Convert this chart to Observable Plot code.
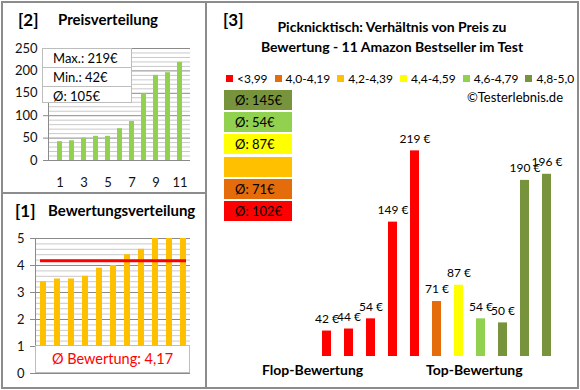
<!DOCTYPE html>
<html><head><meta charset="utf-8">
<script src="https://cdn.jsdelivr.net/npm/d3@7"></script>
<script src="https://cdn.jsdelivr.net/npm/@observablehq/plot@0.6"></script>
<style>
body{margin:0;background:#fff;font-family:Lato,"Open Sans",sans-serif;color:#000;}
#root{position:relative;width:580px;height:390px;overflow:hidden;background:#fff;}
.abs{position:absolute;white-space:nowrap;}
.panel{position:absolute;border:2px solid #8c8c8c;box-sizing:border-box;}
.num{font-size:17px;font-weight:700;}
.ttl{font-size:15px;font-weight:700;}
svg{position:absolute;overflow:visible;}
</style></head>
<body><div id="root"></div>
<script>
// ---- data ----
const prices = [42, 44, 54, 149, 219, 71, 87, 54, 50, 190, 196];
const ratings = [3.4, 3.5, 3.5, 3.6, 3.9, 4.0, 4.4, 4.6, 5.0, 5.0, 5.0];
const classLabels = ["<3,99", "4,0-4,19", "4,2-4,39", "4,4-4,59", "4,6-4,79", "4,8-5,0"];
const classLimits = [4.0, 4.2, 4.4, 4.6, 4.8, 5.01];
const classColors = ["#FF0000", "#E46C0A", "#FFC000", "#FFFF00", "#92D050", "#77933C"];
const priceTicks = [0, 50, 100, 150, 200, 250];
const ratingTicks = [0, 1, 2, 3, 4, 5];
const titleText = ["Picknicktisch: Verhältnis von Preis zu", "Bewertung - 11 Amazon Bestseller im Test"];

const root = document.getElementById("root");
function div(style, html, cls) {
  const d = document.createElement("div");
  d.className = "abs " + (cls || "");
  d.setAttribute("style", style);
  d.innerHTML = html;
  root.appendChild(d);
  return d;
}
function place(svg, left, top) {
  svg.style.left = left + "px"; svg.style.top = top + "px";
  root.appendChild(svg);
}
const classOf = r => classLimits.findIndex(l => r < l);

// panel borders
div("left:1px;top:1px;width:206px;height:193px;", "", "panel");
div("left:1px;top:192px;width:206px;height:197px;", "", "panel");
div("left:205px;top:1px;width:374px;height:388px;", "", "panel");

// ---- panel [2] Preisverteilung ----
const sortedPrices = d3.sort(prices);
const idx = d3.range(1, sortedPrices.length + 1);
const p2 = Plot.plot({
  width: 200, height: 195,
  marginLeft: 48, marginRight: 10, marginTop: 48, marginBottom: 35,
  x: {type: "band", domain: idx, paddingInner: 0.6, paddingOuter: 0.3, axis: null},
  y: {domain: [0, 250], axis: null},
  style: {fontFamily: "Lato, sans-serif", color: "#111"},
  marks: [
    Plot.ruleY(d3.range(0, 251, 10).filter(v => v % 50), {stroke: "#c9c9c9"}),
    Plot.ruleY(priceTicks, {stroke: "#8a8a8a"}),
    Plot.frame({anchor: "left", stroke: "#8a8a8a"}),
    Plot.barY(sortedPrices, {x: (d, i) => idx[i], y: d => d, fill: "#92D050"}),
    Plot.axisY({ticks: priceTicks, tickSize: 5, tickPadding: 6, fontSize: 13, stroke: "#8a8a8a"}),
    Plot.axisX({tickSize: 0, tickPadding: 17, fontSize: 13, tickFormat: d => d % 2 ? d : ""})
  ]
});
place(p2, 0, 0);
div("left:18px;top:9px;", "[2]", "num");
div("left:58px;top:10px;", "Preisverteilung", "ttl");
const statBox = div("left:42px;top:48px;width:90px;height:55px;background:#fff;border:1px solid #bdbdbd;box-sizing:border-box;font-size:13px;", "");
["Max.: " + d3.max(prices) + "€", "Min.: " + d3.min(prices) + "€", "Ø: " + Math.round(d3.mean(prices)) + "€"].forEach((t, i) => {
  const r = document.createElement("div");
  r.textContent = t;
  r.setAttribute("style", "height:18px;line-height:18px;padding-left:10px;" + (i < 2 ? "border-bottom:1px solid #bdbdbd;" : ""));
  statBox.appendChild(r);
});

// ---- panel [1] Bewertungsverteilung ----
const sortedRatings = d3.sort(ratings);
const meanRating = d3.mean(ratings);
const p1 = Plot.plot({
  width: 200, height: 195,
  marginLeft: 35, marginRight: 10, marginTop: 43, marginBottom: 17,
  x: {type: "band", domain: idx, paddingInner: 0.58, paddingOuter: 0.29, axis: null},
  y: {domain: [0, 5], axis: null},
  style: {fontFamily: "Lato, sans-serif", color: "#111"},
  marks: [
    Plot.ruleY(d3.range(0, 5.01, 0.2).filter(v => Math.abs(v - Math.round(v)) > 0.01), {stroke: "#c9c9c9"}),
    Plot.ruleY(ratingTicks, {stroke: "#8a8a8a"}),
    Plot.frame({anchor: "left", stroke: "#8a8a8a"}),
    Plot.barY(sortedRatings, {x: (d, i) => idx[i], y: d => d, fill: "#FFC000"}),
    Plot.ruleY([meanRating], {stroke: "#FF0000", strokeWidth: 3, insetLeft: 5, insetRight: 4}),
    Plot.axisY({ticks: ratingTicks, tickSize: 5, tickPadding: 6, fontSize: 13, stroke: "#8a8a8a", tickFormat: d => String(d)})
  ]
});
place(p1, 0, 195);
div("left:15px;top:200px;", "[1]", "num");
div("left:48px;top:201px;", "Bewertungsverteilung", "ttl");
div("left:35px;top:345px;width:155px;height:28px;background:#fff;border:1px solid #bdbdbd;box-sizing:border-box;color:#FF0000;font-size:14.5px;text-align:center;line-height:26px;",
  "Ø Bewertung: " + meanRating.toFixed(2).replace(".", ","));

// ---- panel [3] Preis zu Bewertung ----
const items = prices.map((p, i) => ({i: i + 1, price: p, cls: classOf(ratings[i])}));
const p3 = Plot.plot({
  width: 380, height: 390,
  marginLeft: 113, marginRight: 20, marginTop: 129, marginBottom: 34,
  x: {type: "band", domain: items.map(d => d.i), paddingInner: 0.6, paddingOuter: 0.3, axis: null},
  y: {domain: [17, 240], axis: null},
  color: {type: "ordinal", domain: d3.range(6), range: classColors},
  style: {fontFamily: "Lato, sans-serif", color: "#000"},
  marks: [
    Plot.barY(items, {x: "i", y1: 17, y2: "price", fill: "cls"}),
    Plot.text(items, {x: "i", y: "price", text: d => d.price + " €", dy: -12, fontSize: 12, fill: "#000"})
  ]
});
place(p3, 200, 0);
div("left:223px;top:9px;", "[3]", "num");
div("left:205px;top:17px;width:374px;text-align:center;font-size:14px;font-weight:700;line-height:20px;", titleText.join("<br>"));
const leg = div("left:226px;top:71px;font-size:12px;display:flex;gap:7px;align-items:center;", "");
classLabels.forEach((l, k) => {
  const s = document.createElement("span");
  s.innerHTML = `<span style="display:inline-block;width:7px;height:7px;background:${classColors[k]};margin-right:4px;vertical-align:1px"></span>${l}`;
  leg.appendChild(s);
});
div("right:17px;top:89px;font-size:13px;", "©Testerlebnis.de");
const avgBox = div("left:224px;top:90px;width:68px;display:flex;flex-direction:column;gap:2.2px;font-size:13px;", "");
d3.range(5, -1, -1).forEach(k => {
  const ps = items.filter(d => d.cls === k).map(d => d.price);
  const b = document.createElement("div");
  b.setAttribute("style", `height:20px;line-height:20px;background:${classColors[k]};padding-left:11px;`);
  b.textContent = ps.length ? "Ø: " + Math.round(d3.mean(ps)) + "€" : "";
  avgBox.appendChild(b);
});
div("left:262px;top:361px;font-size:14px;font-weight:700;", "Flop-Bewertung");
div("left:426px;top:361px;font-size:14px;font-weight:700;", "Top-Bewertung");
</script>
</body></html>
